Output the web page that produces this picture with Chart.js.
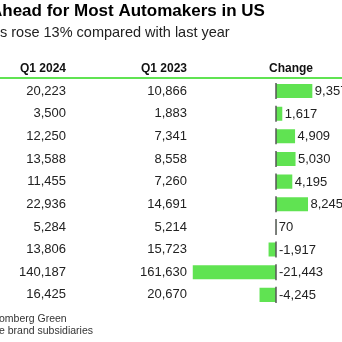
<!DOCTYPE html>
<html>
<head>
<meta charset="utf-8">
<script src="https://cdn.jsdelivr.net/npm/chart.js@4"></script>
<style>
  html, body { margin: 0; padding: 0; background: #fff; }
  canvas { display: block; }
</style>
</head>
<body>
<canvas id="chart" width="342" height="342"></canvas>
<script>
// table data (names column is cropped off in the picture)
const title = 'Ahead for Most Automakers in US';
const subtitle = 's rose 13% compared with last year';
const headers = ['Q1 2024', 'Q1 2023', 'Change'];
const q2024 = [20223, 3500, 12250, 13588, 11455, 22936, 5284, 13806, 140187, 16425];
const q2023 = [10866, 1883, 7341, 8558, 7260, 14691, 5214, 15723, 161630, 20670];
const change = [9357, 1617, 4909, 5030, 4195, 8245, 70, -1917, -21443, -4245];
const footer = ['omberg Green', 'e brand subsidiaries'];

const GREEN = '#60e352';
const FONT = '"Liberation Sans", Arial, Helvetica, sans-serif';
const fmt = v => v.toLocaleString('en-US');

// draws the text columns + header + zero ticks around the bars
const tablePlugin = {
    id: 'table',
    afterDatasetsDraw(chart) {
        const ctx = chart.ctx;
        const y = chart.scales.y;
        const bars = chart.getDatasetMeta(0).data;
        ctx.save();

        // title / subtitle
        ctx.fillStyle = '#000';
        ctx.textAlign = 'left';
        ctx.textBaseline = 'alphabetic';
        ctx.font = 'bold 17px ' + FONT;
        ctx.fillText(title, -10, 16);
        ctx.fillStyle = '#222';
        ctx.font = '14.5px ' + FONT;
        ctx.fillText(subtitle, 0, 37);

        // column headers
        ctx.fillStyle = '#111';
        ctx.font = 'bold 12px ' + FONT;
        ctx.textAlign = 'right';
        ctx.fillText(headers[0], 66, 72);
        ctx.fillText(headers[1], 187, 72);
        ctx.textAlign = 'center';
        ctx.fillText(headers[2], 291, 72);

        // green rule under the header
        ctx.fillStyle = GREEN;
        ctx.fillRect(0, 77, chart.width, 2);

        // rows
        ctx.font = '13px ' + FONT;
        ctx.textBaseline = 'middle';
        ctx.fillStyle = '#222';
        change.forEach((c, i) => {
            const py = y.getPixelForValue(i);
            ctx.textAlign = 'right';
            ctx.fillText(fmt(q2024[i]), 66, py);
            ctx.fillText(fmt(q2023[i]), 187, py);

            const bar = bars[i];
            const h = bar.height;
            // little zero line beside each bar
            ctx.strokeStyle = '#555';
            ctx.lineWidth = 1.5;
            ctx.beginPath();
            ctx.moveTo(bar.base, py - h / 2 - 1);
            ctx.lineTo(bar.base, py + h / 2 + 1);
            ctx.stroke();

            ctx.textAlign = 'left';
            const lx = c > 0 ? Math.max(bar.x, bar.base) + 2.5 : bar.base + 3;
            ctx.fillText(fmt(c), lx, py + 0.5);
        });

        // source / note
        ctx.textBaseline = 'alphabetic';
        ctx.textAlign = 'left';
        ctx.fillStyle = '#333';
        ctx.font = '10.5px ' + FONT;
        ctx.fillText(footer[0], -1, 322);
        ctx.fillText(footer[1], -1, 334);

        ctx.restore();
    }
};

new Chart(document.getElementById('chart'), {
    type: 'bar',
    data: {
        labels: change.map((_, i) => i),
        datasets: [{
            data: change,
            backgroundColor: GREEN,
            borderWidth: 0,
            barPercentage: 0.62,
            categoryPercentage: 1
        }]
    },
    options: {
        indexAxis: 'y',
        responsive: false,
        animation: false,
        layout: { padding: { top: 79.7, bottom: 35.8, left: 0, right: 0 } },
        plugins: { legend: { display: false }, tooltip: { enabled: false } },
        scales: {
            x: { display: false, min: -71100, max: 17000 },
            y: { display: false }
        }
    },
    plugins: [tablePlugin]
});
</script>
</body>
</html>
